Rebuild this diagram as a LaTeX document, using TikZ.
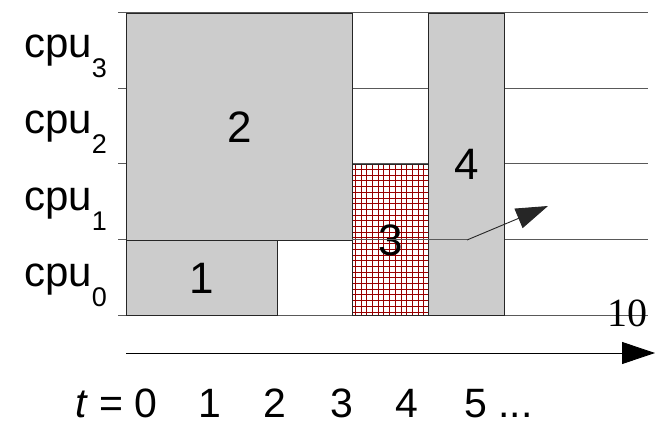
\documentclass[tikz,border=0pt]{standalone}
\usepackage{fontspec}
\setmainfont{Liberation Sans}
\newfontfamily\timesfont{Liberation Serif}
\usetikzlibrary{arrows.meta}
\newcommand{\cpu}[1]{cpu\raisebox{-20pt}{\fontsize{27}{27}\selectfont #1}}

\begin{document}
\begin{tikzpicture}[
  x=1pt, y=-1pt,
  rowline/.style={black!65, line width=1pt},
  job/.style={draw=black!85, fill=black!20, line width=0.8pt, anchor=north west, inner sep=0pt, font=\fontsize{44}{44}\selectfont},
  hatch/.style={red!60!black, line width=0.9pt},
  cpulbl/.style={anchor=base west, inner sep=0pt, font=\fontsize{42}{42}\selectfont},
  tlbl/.style={anchor=base, inner sep=0pt, font=\fontsize{41}{41}\selectfont},
  arr/.style={-{Triangle[length=32pt, width=21pt]}, line width=0.9pt},
]
\useasboundingbox (0,0) rectangle (660,427);

% rows of the processors
\foreach \y in {13,89,164,240,315}
  \draw[rowline] (118,\y) -- (648,\y);
\draw[black, line width=0.9pt] (126,13) -- (126,315);

% jobs
\node[job, minimum width=226pt, minimum height=227pt] (j2) at (126,13) {2};
\node[job, minimum width=151pt, minimum height=75pt] (j1) at (126,240) {1};
\node[job, fill=white, minimum width=76pt, minimum height=151pt,
  path picture={\draw[hatch] (path picture bounding box.south west) grid[step=5.7pt] (path picture bounding box.north east);}] (j3) at (352,164) {3};
\node[job, minimum width=76pt, minimum height=302pt] (j4) at (428,13) {4};

% arrival of job 4
\coordinate (a0) at (352,240);
\coordinate (a1) at (467,240);
\coordinate (a2) at (548,206);
\draw[rowline] (a0) -- (a1);
\draw[arr, black!85] (a1) -- (a2);

\node[inner sep=0pt, font=\timesfont\fontsize{40}{40}\selectfont] (ten) at (627,313) {10};

% time axis
\coordinate (t0) at (126,353);
\coordinate (t1) at (655,353);
\draw[-{Triangle[length=33pt, width=22pt]}, line width=0.9pt] (t0) -- (t1);

% labels
\node[cpulbl] (c3) at (24,58) {\cpu{3}};
\node[cpulbl] (c2) at (24,134) {\cpu{2}};
\node[cpulbl] (c1) at (24,210.5) {\cpu{1}};
\node[cpulbl] (c0) at (24,286) {\cpu{0}};

\node[cpulbl, font=\fontsize{41}{41}\selectfont] (tz) at (75,417.5) {\textit{t} = 0};
\node[tlbl] (tt1) at (210,417.5) {1};
\node[tlbl] (tt2) at (275,417.5) {2};
\node[tlbl] (tt3) at (342,417.5) {3};
\node[tlbl] (tt4) at (407,417.5) {4};
\node[cpulbl, font=\fontsize{41}{41}\selectfont] (tt5) at (464,417.5) {5 ...};
\end{tikzpicture}
\end{document}
